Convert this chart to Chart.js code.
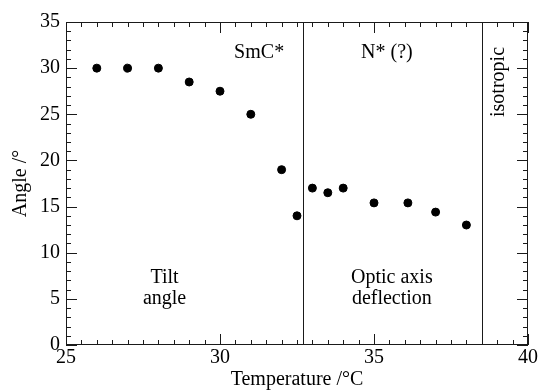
<!DOCTYPE html>
<html>
<head>
<meta charset="utf-8">
<script src="https://cdn.jsdelivr.net/npm/chart.js@4/dist/chart.umd.min.js"></script>
<style>
    html, body { margin: 0; padding: 0; background: #fff; }
    #wrap { width: 542px; height: 392px; }
</style>
</head>
<body>
<div id="wrap"><canvas id="chart"></canvas></div>
<script>
// Measured angle vs temperature
const temperatures = [26, 27, 28, 29, 30, 31, 32, 32.5, 33, 33.5, 34, 35, 36.1, 37, 38];
const angles = [30, 30, 30, 28.5, 27.5, 25, 19, 14, 17, 16.5, 17, 15.4, 15.4, 14.4, 13];

// Phase transition temperatures (vertical lines)
const phaseBoundaries = [32.7, 38.5];

// Region labels, placed in data coordinates
const regionLabels = [
    { text: ['SmC*'], x: 31.27, y: 31.7, rotate: false },
    { text: ['N* (?)'], x: 35.42, y: 31.7, rotate: false },
    { text: ['isotropic'], x: 39.06, y: 28.5, rotate: true },
    { text: ['Tilt', 'angle'], x: 28.2, y: 6.2, rotate: false },
    { text: ['Optic axis', 'deflection'], x: 35.58, y: 6.2, rotate: false }
];

const FONT = 'Liberation Serif, Times New Roman, serif';
const INK = '#1a1a1a';

// Frame, inward ticks on all four sides, phase lines and region text
const framePlugin = {
    id: 'frame',
    afterDatasetsDraw(chart) {
        const { ctx, chartArea: a, scales: { x, y } } = chart;
        ctx.save();
        ctx.strokeStyle = INK;
        ctx.lineWidth = 1;

        // phase boundaries
        phaseBoundaries.forEach(t => {
            const px = Math.round(x.getPixelForValue(t)) + 0.5;
            ctx.beginPath();
            ctx.moveTo(px, a.top);
            ctx.lineTo(px, a.bottom);
            ctx.stroke();
        });

        // box
        ctx.strokeRect(a.left + 0.5, a.top + 0.5, a.right - a.left - 1, a.bottom - a.top - 1);

        // x ticks every 0.5, major every 5
        for (let v = x.min; v <= x.max + 1e-9; v += 0.5) {
            const px = Math.round(x.getPixelForValue(v)) + 0.5;
            const len = (Math.abs(v % 5) < 1e-9) ? 11 : 5;
            ctx.beginPath();
            ctx.moveTo(px, a.bottom);
            ctx.lineTo(px, a.bottom - len);
            ctx.moveTo(px, a.top);
            ctx.lineTo(px, a.top + len);
            ctx.stroke();
        }
        // y ticks every 1, major every 5
        for (let v = y.min; v <= y.max + 1e-9; v += 1) {
            const py = Math.round(y.getPixelForValue(v)) + 0.5;
            const len = (v % 5 === 0) ? 11 : 5;
            ctx.beginPath();
            ctx.moveTo(a.left, py);
            ctx.lineTo(a.left + len, py);
            ctx.moveTo(a.right, py);
            ctx.lineTo(a.right - len, py);
            ctx.stroke();
        }

        // region labels
        ctx.fillStyle = '#000';
        ctx.font = '20px ' + FONT;
        ctx.textAlign = 'center';
        ctx.textBaseline = 'middle';
        const lh = 21;
        regionLabels.forEach(l => {
            const px = x.getPixelForValue(l.x);
            const py = y.getPixelForValue(l.y);
            ctx.save();
            ctx.translate(px, py);
            if (l.rotate) ctx.rotate(-Math.PI / 2);
            const y0 = -(l.text.length - 1) * lh / 2;
            l.text.forEach((s, i) => ctx.fillText(s, 0, y0 + i * lh));
            ctx.restore();
        });
        ctx.restore();
    }
};

new Chart(document.getElementById('chart'), {
    type: 'scatter',
    data: {
        datasets: [{
            data: temperatures.map((t, i) => ({ x: t, y: angles[i] })),
            backgroundColor: '#000',
            borderColor: '#000',
            pointRadius: 4,
            pointHoverRadius: 4
        }]
    },
    options: {
        responsive: true,
        maintainAspectRatio: false,
        animation: false,
        events: [],
        layout: { padding: { top: 22, right: 14, left: 0, bottom: 0 } },
        plugins: {
            legend: { display: false },
            tooltip: { enabled: false }
        },
        scales: {
            x: {
                type: 'linear',
                min: 25,
                max: 40,
                grid: { display: false, drawTicks: false, tickLength: 0 },
                border: { display: false },
                ticks: {
                    stepSize: 5,
                    color: '#000',
                    padding: 1,
                    font: { family: FONT, size: 20 }
                },
                title: {
                    display: true,
                    text: 'Temperature /°C',
                    color: '#000',
                    padding: { top: 0, bottom: 0 },
                    font: { family: FONT, size: 20 }
                },
                afterFit(scale) { scale.height = 47; }
            },
            y: {
                min: 0,
                max: 35,
                grid: { display: false, drawTicks: false, tickLength: 0 },
                border: { display: false },
                ticks: {
                    stepSize: 5,
                    color: '#000',
                    padding: 6,
                    font: { family: FONT, size: 20 }
                },
                title: {
                    display: true,
                    text: 'Angle /°',
                    color: '#000',
                    padding: { top: 9, bottom: 0 },
                    font: { family: FONT, size: 20 }
                },
                afterFit(scale) { scale.width = 66; }
            }
        }
    },
    plugins: [framePlugin]
});
</script>
</body>
</html>
